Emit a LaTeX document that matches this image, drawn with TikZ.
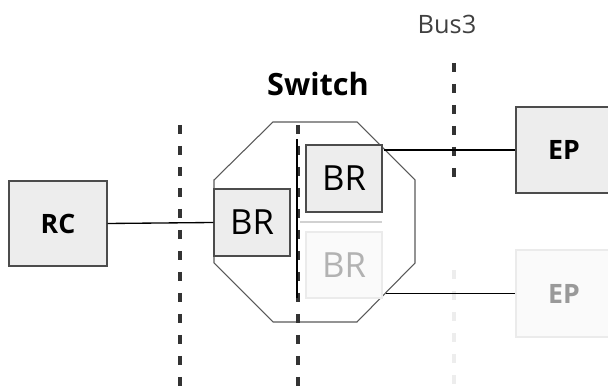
\documentclass[tikz,border=0pt]{standalone}
\usepackage{fontspec}
\setmainfont{Open Sans}
\begin{document}
\begin{tikzpicture}[x=0.75pt,y=-0.75pt,
  box/.style={draw=black!70, fill=black!7, line width=0.9pt, inner sep=0pt},
  fadebox/.style={draw=black!8, fill=black!2, line width=0.9pt, inner sep=0pt},
  busline/.style={draw=black!80, line width=3pt, dash pattern=on 6.75pt off 9pt},
  fadebus/.style={draw=black!7, line width=3pt, dash pattern=on 6.75pt off 9pt},
  link/.style={draw=black, line width=1pt},
  octa/.style={draw=black!65, line width=0.8pt},
  boldlab/.style={font=\bfseries\fontsize{20}{24}\selectfont},
  brlab/.style={font=\fontsize{26}{30}\selectfont}
]
\useasboundingbox (0,0) rectangle (608,391);
\clip (0,0) rectangle (608,391);
% switch outline
\draw[octa] (273,122) -- (357,122) -- (415,180) -- (415,263) -- (357,322) -- (273,322) -- (214,263) -- (214,180) -- cycle;
% bus lines
\coordinate (b1t) at (180,125); \coordinate (b1b) at (180,395);
\coordinate (b2t) at (298,125); \coordinate (b2b) at (298,395);
\coordinate (b3t) at (454,63);  \coordinate (b3b) at (454,185);
\coordinate (b3ft) at (454,270); \coordinate (b3fb) at (454,395);
\draw[busline] (b1t) -- (b1b);
\draw[busline] (b2t) -- (b2b);
\draw[busline] (b3t) -- (b3b);
\draw[fadebus] (b3ft) -- (b3fb);
\coordinate (s1) at (297,139); \coordinate (s2) at (297,298);
\draw[line width=1pt, black] (s1) -- (s2);
% light separator
\coordinate (sep1) at (300,222); \coordinate (sep2) at (382,222);
\draw[black!18, line width=1.5pt] (sep1) -- (sep2);
% nodes
\node[box, minimum width=73.5pt, minimum height=63.75pt, boldlab] (RC) at (58,223.5) {RC};
\node[box, minimum width=57pt, minimum height=50.25pt, brlab] (BR1) at (252,222.5) {BR};
\node[box, minimum width=57pt, minimum height=50.25pt, brlab] (BR2) at (344,178.5) {BR};
\node[fadebox, minimum width=57pt, minimum height=49.5pt, brlab, text=black!30] (BR3) at (344,265) {BR};
\node[box, minimum width=72pt, minimum height=64.5pt, boldlab] (EP1) at (564,150) {EP};
\node[fadebox, minimum width=72pt, minimum height=65.25pt, boldlab, text=black!40] (EP2) at (564,293.5) {EP};
\node[font=\bfseries\fontsize{23}{27}\selectfont] (sw) at (318,84) {Switch};
\node[font=\fontsize{19}{23}\selectfont, text=black!75] (bus3) at (447,24) {Bus3};
% links
\draw[link] (RC.east) -- (BR1.west);
\coordinate (t1) at (384,150);
\coordinate (t2) at (386,293.5);
\draw[link] (t1) -- (EP1.west);
\draw[link] (t2) -- (EP2.west);
\end{tikzpicture}
\end{document}
